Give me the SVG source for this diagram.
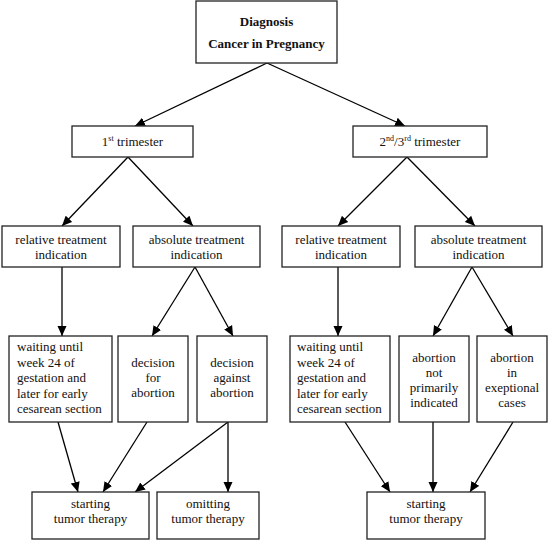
<svg xmlns="http://www.w3.org/2000/svg" width="549" height="541" viewBox="0 0 549 541">
<defs>
<marker id="ah" markerUnits="userSpaceOnUse" markerWidth="10" markerHeight="10" viewBox="0 0 10 10" refX="10" refY="5" orient="auto">
<path d="M0,0.5 L10,5 L0,9.5 Z" fill="#000"/>
</marker>
<style>
rect{fill:#fff;stroke:#222;stroke-width:1.3}
text{font-family:"Liberation Serif","Times New Roman",serif;font-size:13px;fill:#111;text-anchor:middle}
.b{font-weight:bold}
.l{text-anchor:start}
#edges line{stroke:#000;stroke-width:1.3;marker-end:url(#ah)}
</style>
</defs>
<rect x="0" y="0" width="549" height="541" style="fill:#fff;stroke:none"/>
<g id="edges">
<line x1="267" y1="63" x2="135" y2="126"/>
<line x1="267" y1="63" x2="405" y2="126"/>
<line x1="128" y1="157" x2="62" y2="226"/>
<line x1="128" y1="157" x2="193" y2="226"/>
<line x1="407" y1="157" x2="338" y2="226"/>
<line x1="407" y1="157" x2="475" y2="226"/>
<line x1="62" y1="267" x2="62" y2="336"/>
<line x1="195" y1="267" x2="152" y2="336"/>
<line x1="195" y1="267" x2="233" y2="336"/>
<line x1="338" y1="267" x2="338" y2="336"/>
<line x1="472" y1="267" x2="433" y2="336"/>
<line x1="472" y1="267" x2="513" y2="336"/>
<line x1="58" y1="422" x2="78" y2="492"/>
<line x1="147" y1="422" x2="103" y2="492"/>
<line x1="228" y1="422" x2="135" y2="492"/>
<line x1="228" y1="422" x2="228" y2="492"/>
<line x1="345" y1="422" x2="390" y2="492"/>
<line x1="433" y1="422" x2="433" y2="492"/>
<line x1="513" y1="422" x2="470" y2="492"/>
</g>
<g id="n-diagnosis">
<rect x="196" y="1" width="141" height="62"/>
<text class="b" x="266.5" y="26">Diagnosis</text>
<text class="b" x="266.5" y="48">Cancer in Pregnancy</text>
</g>
<g id="n-t1">
<rect x="72" y="126" width="121" height="31"/>
<text x="132.5" y="146">1<tspan font-size="8" dy="-5">st</tspan><tspan dy="5"> trimester</tspan></text>
</g>
<g id="n-t23">
<rect x="353" y="126" width="134" height="31"/>
<text x="420" y="146">2<tspan font-size="8" dy="-5">nd</tspan><tspan dy="5">/3</tspan><tspan font-size="8" dy="-5">rd</tspan><tspan dy="5"> trimester</tspan></text>
</g>
<g id="n-rel1">
<rect x="2" y="226" width="118" height="41"/>
<text x="61" y="244">relative treatment</text>
<text x="61" y="259">indication</text>
</g>
<g id="n-abs1">
<rect x="133" y="226" width="127" height="41"/>
<text x="196.5" y="244">absolute treatment</text>
<text x="196.5" y="259">indication</text>
</g>
<g id="n-rel2">
<rect x="282" y="226" width="118" height="41"/>
<text x="341" y="244">relative treatment</text>
<text x="341" y="259">indication</text>
</g>
<g id="n-abs2">
<rect x="415" y="226" width="127" height="41"/>
<text x="478.5" y="244">absolute treatment</text>
<text x="478.5" y="259">indication</text>
</g>
<g id="n-wait1">
<rect x="9" y="336" width="103" height="86"/>
<text class="l" x="17" y="351">waiting until</text>
<text class="l" x="17" y="366.5">week 24 of</text>
<text class="l" x="17" y="382">gestation and</text>
<text class="l" x="17" y="397.5">later for early</text>
<text class="l" x="17" y="413">cesarean section</text>
</g>
<g id="n-decfor">
<rect x="118" y="336" width="70" height="86"/>
<text x="153" y="367">decision</text>
<text x="153" y="382">for</text>
<text x="153" y="397">abortion</text>
</g>
<g id="n-decagainst">
<rect x="197" y="336" width="70" height="86"/>
<text x="232" y="367">decision</text>
<text x="232" y="382">against</text>
<text x="232" y="397">abortion</text>
</g>
<g id="n-wait2">
<rect x="290" y="336" width="100" height="86"/>
<text class="l" x="297" y="351">waiting until</text>
<text class="l" x="297" y="366.5">week 24 of</text>
<text class="l" x="297" y="382">gestation and</text>
<text class="l" x="297" y="397.5">later for early</text>
<text class="l" x="297" y="413">cesarean section</text>
</g>
<g id="n-abnot">
<rect x="399" y="336" width="70" height="86"/>
<text x="434" y="362">abortion</text>
<text x="434" y="377">not</text>
<text x="434" y="392">primarily</text>
<text x="434" y="407">indicated</text>
</g>
<g id="n-abexc">
<rect x="477" y="336" width="70" height="86"/>
<text x="512" y="362">abortion</text>
<text x="512" y="377">in</text>
<text x="512" y="392">exeptional</text>
<text x="512" y="407">cases</text>
</g>
<g id="n-start1">
<rect x="32" y="492" width="117" height="47"/>
<text x="90.5" y="508">starting</text>
<text x="90.5" y="523">tumor therapy</text>
</g>
<g id="n-omit">
<rect x="157" y="492" width="102" height="47"/>
<text x="208" y="508">omitting</text>
<text x="208" y="523">tumor therapy</text>
</g>
<g id="n-start2">
<rect x="367" y="492" width="118" height="47"/>
<text x="426" y="508">starting</text>
<text x="426" y="523">tumor therapy</text>
</g>
</svg>
